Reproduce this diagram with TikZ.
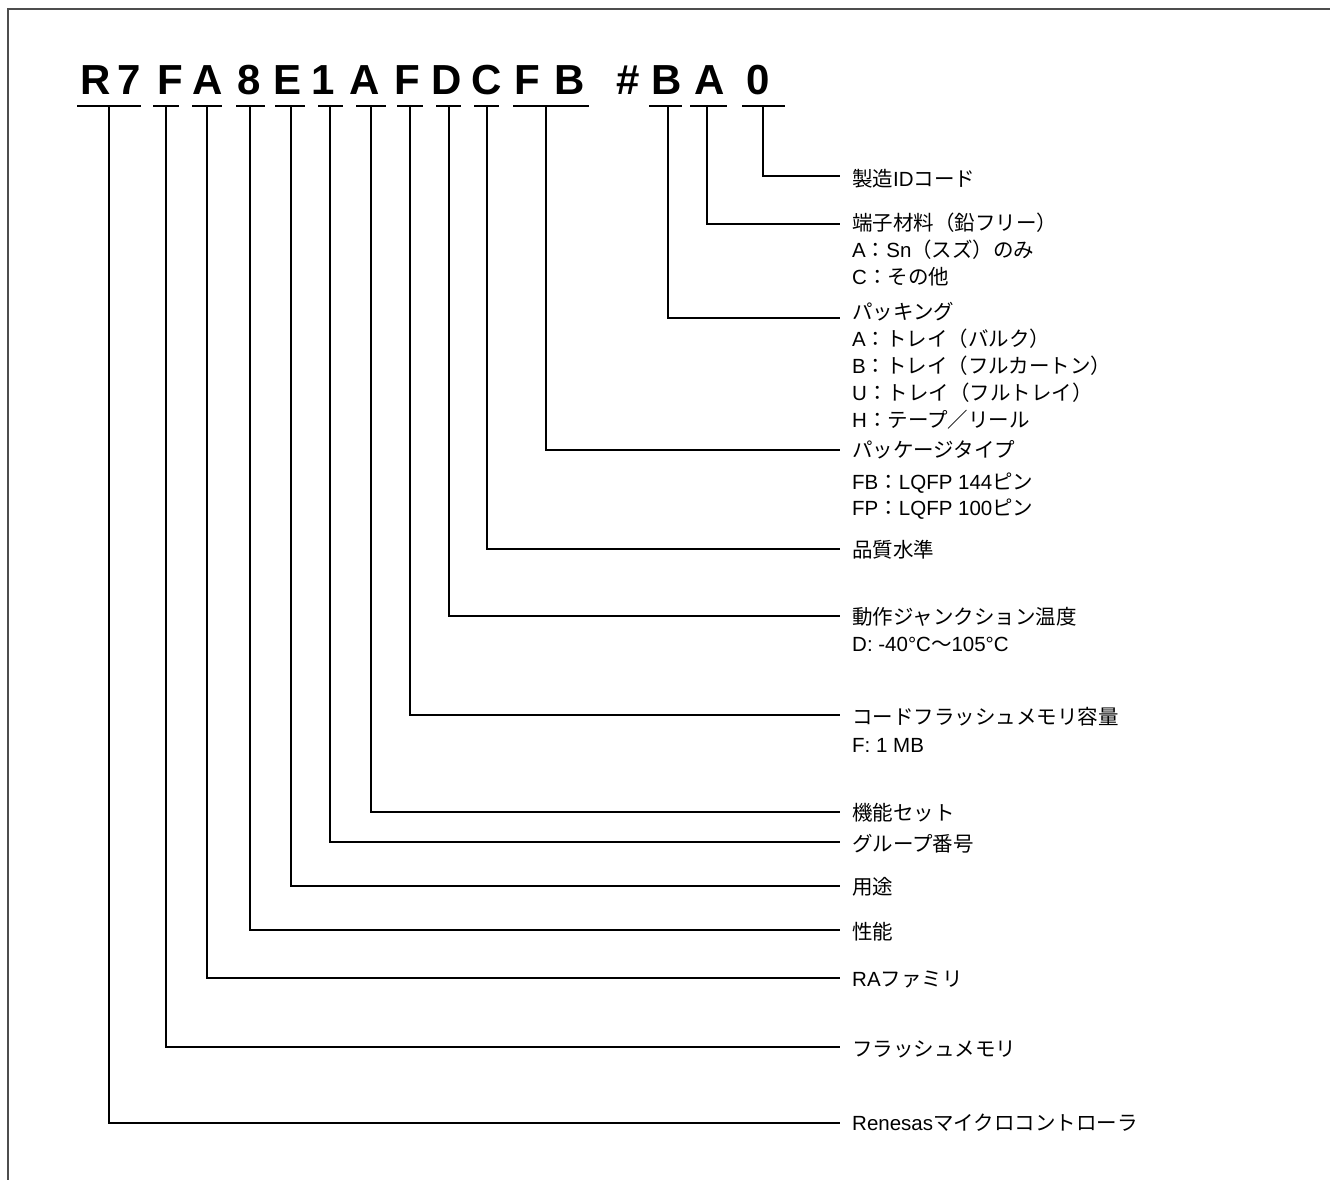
\documentclass[tikz,border=0pt]{standalone}
\usepackage{fontspec}
\newfontfamily\codefont{Liberation Sans}
\newfontfamily\latf{Liberation Sans}
\newfontfamily\jp{Noto Sans CJK JP}
\newcommand\lt[1]{{\latf #1}}
\definecolor{framegray}{HTML}{4D4D4D}
\begin{document}
\begin{tikzpicture}[x=1pt,y=-1pt,
  code/.style={font=\codefont\bfseries\fontsize{42}{42}\selectfont, anchor=base, inner sep=0pt},
  lab/.style={font=\jp\fontsize{20.5}{24}\selectfont, anchor=base west, inner sep=0pt},
  ul/.style={line width=2pt},
  conn/.style={line width=1.3pt}]
\useasboundingbox (0,0) rectangle (1330,1180);
% frame
\draw[framegray, line width=2pt] (8,1180) -- (8,9) -- (1330,9);
% code characters
\node[code] (cR)  at (96,95)  {R};
\node[code] (c7)  at (129,95) {7};
\node[code] (cF1) at (170,95) {F};
\node[code] (cA1) at (208,95) {A};
\node[code] (c8)  at (249,95) {8};
\node[code] (cE)  at (288,95) {E};
\node[code] (c1)  at (323,95) {1};
\node[code] (cA2) at (365,95) {A};
\node[code] (cF2) at (407,95) {F};
\node[code] (cD)  at (447,95) {D};
\node[code] (cC)  at (487,95) {C};
\node[code] (cF3) at (527,95) {F};
\node[code] (cB1) at (570,95) {B};
\node[code] (cH)  at (628,95) {\#};
\node[code] (cB2) at (667,95) {B};
\node[code] (cA3) at (710,95) {A};
\node[code] (c0)  at (758,95) {0};
% underlines
\draw[ul] (77,106) -- (141,106);
\draw[ul] (153,106) -- (179,106);
\draw[ul] (192,106) -- (222,106);
\draw[ul] (236,106) -- (265,106);
\draw[ul] (275,106) -- (305,106);
\draw[ul] (318,106) -- (343,106);
\draw[ul] (356,106) -- (386,106);
\draw[ul] (397,106) -- (423,106);
\draw[ul] (436,106) -- (461,106);
\draw[ul] (474,106) -- (499,106);
\draw[ul] (513,106) -- (589,106);
\draw[ul] (649,106) -- (682,106);
\draw[ul] (690,106) -- (727,106);
\draw[ul] (742,106) -- (785,106);
% connector start points
\coordinate (u1)  at (109,106);
\coordinate (u2)  at (166,106);
\coordinate (u3)  at (207,106);
\coordinate (u4)  at (250,106);
\coordinate (u5)  at (291,106);
\coordinate (u6)  at (330,106);
\coordinate (u7)  at (371,106);
\coordinate (u8)  at (410,106);
\coordinate (u9)  at (449,106);
\coordinate (u10) at (487,106);
\coordinate (u11) at (546,106);
\coordinate (u12) at (668,106);
\coordinate (u13) at (707,106);
\coordinate (u14) at (763,106);
% connector end points
\coordinate (e1)  at (840,1123);
\coordinate (e2)  at (840,1047);
\coordinate (e3)  at (840,978);
\coordinate (e4)  at (840,930);
\coordinate (e5)  at (840,886);
\coordinate (e6)  at (840,842);
\coordinate (e7)  at (840,812);
\coordinate (e8)  at (840,715);
\coordinate (e9)  at (840,616);
\coordinate (e10) at (840,549);
\coordinate (e11) at (840,450);
\coordinate (e12) at (840,318);
\coordinate (e13) at (840,224);
\coordinate (e14) at (840,176);
\foreach \i in {1,...,14} \draw[conn] (u\i) |- (e\i);
% labels
\node[lab] (l14)  at (852,186) {製造\lt{ID}コード};
\node[lab] (l13)  at (852,230) {端子材料（鉛フリー）};
\node[lab] (l13a) at (852,257) {\lt{A}：\lt{Sn}（スズ）のみ};
\node[lab] (l13b) at (852,284) {\lt{C}：その他};
\node[lab] (l12)  at (852,319) {パッキング};
\node[lab] (l12a) at (852,346) {\lt{A}：トレイ（バルク）};
\node[lab] (l12b) at (852,373) {\lt{B}：トレイ（フルカートン）};
\node[lab] (l12c) at (852,400) {\lt{U}：トレイ（フルトレイ）};
\node[lab] (l12d) at (852,427) {\lt{H}：テープ／リール};
\node[lab] (l11)  at (852,457) {パッケージタイプ};
\node[lab] (l11a) at (852,489) {\lt{FB}：\lt{LQFP 144}ピン};
\node[lab] (l11b) at (852,515) {\lt{FP}：\lt{LQFP 100}ピン};
\node[lab] (l10)  at (852,557) {品質水準};
\node[lab] (l9)   at (852,624) {動作ジャンクション温度};
\node[lab] (l9a)  at (852,651) {\lt{D: -40°C}〜\lt{105°C}};
\node[lab] (l8)   at (852,724) {コードフラッシュメモリ容量};
\node[lab] (l8a)  at (852,752) {\lt{F: 1 MB}};
\node[lab] (l7)   at (852,820) {機能セット};
\node[lab] (l6)   at (852,851) {グループ番号};
\node[lab] (l5)   at (852,894) {用途};
\node[lab] (l4)   at (852,939) {性能};
\node[lab] (l3)   at (852,986) {\lt{RA}ファミリ};
\node[lab] (l2)   at (852,1056) {フラッシュメモリ};
\node[lab] (l1)   at (852,1130) {\lt{Renesas}マイクロコントローラ};
\end{tikzpicture}
\end{document}
